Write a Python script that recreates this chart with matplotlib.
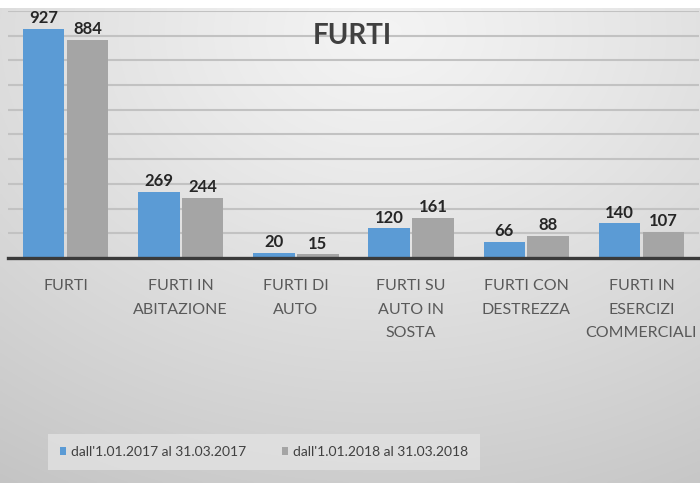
import numpy as np
import matplotlib
matplotlib.use("Agg")
import matplotlib.pyplot as plt

plt.rcParams['font.family'] = ['Lato', 'DejaVu Sans']

categories = ["FURTI", "FURTI IN\nABITAZIONE", "FURTI DI\nAUTO", "FURTI SU\nAUTO IN\nSOSTA",
              "FURTI CON\nDESTREZZA", "FURTI IN\nESERCIZI\nCOMMERCIALI"]
series_names = ["dall'1.01.2017 al 31.03.2017", "dall'1.01.2018 al 31.03.2018"]
values_2017 = [927, 269, 20, 120, 66, 140]
values_2018 = [884, 244, 15, 161, 88, 107]
colors = ["#5B9BD5", "#A5A5A5"]

W, H = 700, 494
fig = plt.figure(figsize=(W/100, H/100), dpi=100)
fig.patch.set_facecolor("white")

# background gradient panel
bg = fig.add_axes([0, 1-483/H, 1, 475/H])
bg.set_axis_off()
yy, xx = np.mgrid[0:1:200j, 0:1:300j]
r = np.sqrt(((xx-0.55)/0.95)**2 + ((yy-0.05)/1.05)**2)
g = 0.955 - 0.17*np.clip(r, 0, 1.1)**1.2
img = np.dstack([g, g, g])
bg.imshow(img, aspect='auto', extent=[0, 1, 1, 0], interpolation='bilinear')
bg.set_xlim(0, 1); bg.set_ylim(1, 0)

ax = fig.add_axes([8/W, 1-258/H, 691/W, 247/H])
ax.patch.set_alpha(0)
x = np.arange(len(categories))
w = 0.36
off = 0.19
b1 = ax.bar(x-off, values_2017, w, color=colors[0], zorder=3, label=series_names[0])
b2 = ax.bar(x+off, values_2018, w, color=colors[1], zorder=3, label=series_names[1])
for bars, vals in ((b1, values_2017), (b2, values_2018)):
    for rect, v in zip(bars, vals):
        ax.annotate(str(v), (rect.get_x()+rect.get_width()/2, v), xytext=(0, 2),
                    textcoords='offset points', ha='center', va='bottom',
                    fontsize=12, fontweight='bold', color='#262626', zorder=4)

ax.set_ylim(0, 1000)
ax.set_xlim(-0.5, len(categories)-0.5)
ax.set_yticks(np.arange(100, 1001, 100))
ax.yaxis.grid(True, color='#C2C2C2', lw=1.5, zorder=0)
ax.tick_params(axis='y', length=0, labelleft=False)
ax.set_xticks(x)
ax.set_xticklabels(categories, fontsize=11.5, color='#595959', linespacing=1.88)
ax.tick_params(axis='x', length=0, pad=15)
for s in ['top', 'right', 'left']:
    ax.spines[s].set_visible(False)
ax.spines['bottom'].set_color('#3A3A3A')
ax.spines['bottom'].set_linewidth(2.4)
ax.spines['bottom'].set_zorder(5)

fig.text(352/W, 1-36/H, "FURTI", ha='center', va='center', fontsize=20,
         fontweight='bold', color='#404040')

leg = fig.legend(handles=[b1, b2], labels=series_names, loc='center',
                 bbox_to_anchor=(264/W, 1-452/H), ncol=2, frameon=True,
                 fontsize=10, handlelength=0.45, handleheight=0.45, handletextpad=0.35,
                 columnspacing=2.6, borderpad=0.85, borderaxespad=0, fancybox=False)
leg.get_frame().set_facecolor('#E2E2E2')
leg.get_frame().set_edgecolor('none')
for t in leg.get_texts():
    t.set_color('#404040')

fig.savefig("out.png", dpi=100)
